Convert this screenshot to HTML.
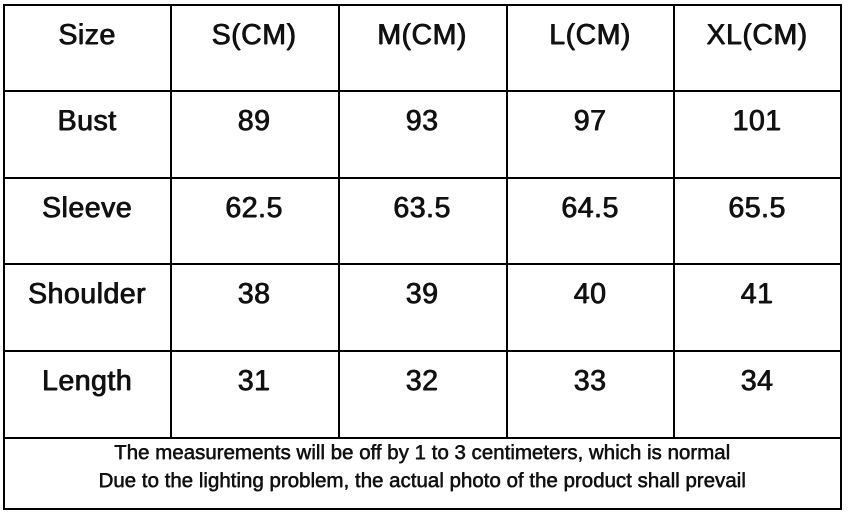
<!DOCTYPE html>
<html><head><style>
body{margin:0;width:849px;height:516px;background:#fff;position:relative;overflow:hidden;font-family:"Liberation Sans",sans-serif;color:#111}
.l{position:absolute;background:#000}
.t{position:absolute;width:168px;text-align:center;font-size:28.5px;font-weight:normal;text-shadow:0.6px 0 0 #111,-0.3px 0 0 #111,0 0.4px 0 #111;letter-spacing:0.5px;line-height:30px}
.f{position:absolute;left:3px;width:838px;text-align:center;font-size:20.5px;font-weight:normal;text-shadow:0.5px 0 0 #111,0 0.3px 0 #111;line-height:20px;white-space:nowrap}
</style></head><body>
<div class="l" style="left:3px;top:4px;width:839px;height:2px"></div>
<div class="l" style="left:3px;top:90px;width:839px;height:1.5px"></div>
<div class="l" style="left:3px;top:177px;width:839px;height:1.5px"></div>
<div class="l" style="left:3px;top:263px;width:839px;height:1.5px"></div>
<div class="l" style="left:3px;top:350px;width:839px;height:1.5px"></div>
<div class="l" style="left:3px;top:437px;width:839px;height:1.5px"></div>
<div class="l" style="left:3px;top:508px;width:839px;height:2px"></div>
<div class="l" style="left:3px;top:4px;width:2px;height:506px"></div>
<div class="l" style="left:840px;top:4px;width:2px;height:506px"></div>
<div class="l" style="left:170px;top:4px;width:1.5px;height:434px"></div>
<div class="l" style="left:338px;top:4px;width:1.5px;height:434px"></div>
<div class="l" style="left:506px;top:4px;width:1.5px;height:434px"></div>
<div class="l" style="left:673px;top:4px;width:1.5px;height:434px"></div>

<div class="t" style="left:3px;top:20px">Size</div>
<div class="t" style="left:170px;top:20px">S(CM)</div>
<div class="t" style="left:338px;top:20px">M(CM)</div>
<div class="t" style="left:506px;top:20px">L(CM)</div>
<div class="t" style="left:673px;top:20px">XL(CM)</div>

<div class="t" style="left:3px;top:106px">Bust</div>
<div class="t" style="left:170px;top:106px">89</div>
<div class="t" style="left:338px;top:106px">93</div>
<div class="t" style="left:506px;top:106px">97</div>
<div class="t" style="left:673px;top:106px">101</div>

<div class="t" style="left:3px;top:193px">Sleeve</div>
<div class="t" style="left:170px;top:193px">62.5</div>
<div class="t" style="left:338px;top:193px">63.5</div>
<div class="t" style="left:506px;top:193px">64.5</div>
<div class="t" style="left:673px;top:193px">65.5</div>

<div class="t" style="left:3px;top:279px">Shoulder</div>
<div class="t" style="left:170px;top:279px">38</div>
<div class="t" style="left:338px;top:279px">39</div>
<div class="t" style="left:506px;top:279px">40</div>
<div class="t" style="left:673px;top:279px">41</div>

<div class="t" style="left:3px;top:366px">Length</div>
<div class="t" style="left:170px;top:366px">31</div>
<div class="t" style="left:338px;top:366px">32</div>
<div class="t" style="left:506px;top:366px">33</div>
<div class="t" style="left:673px;top:366px">34</div>

<div class="f" style="top:443px">The measurements will be off by 1 to 3 centimeters, which is normal</div>
<div class="f" style="top:471px">Due to the lighting problem, the actual photo of the product shall prevail</div>
</body></html>
